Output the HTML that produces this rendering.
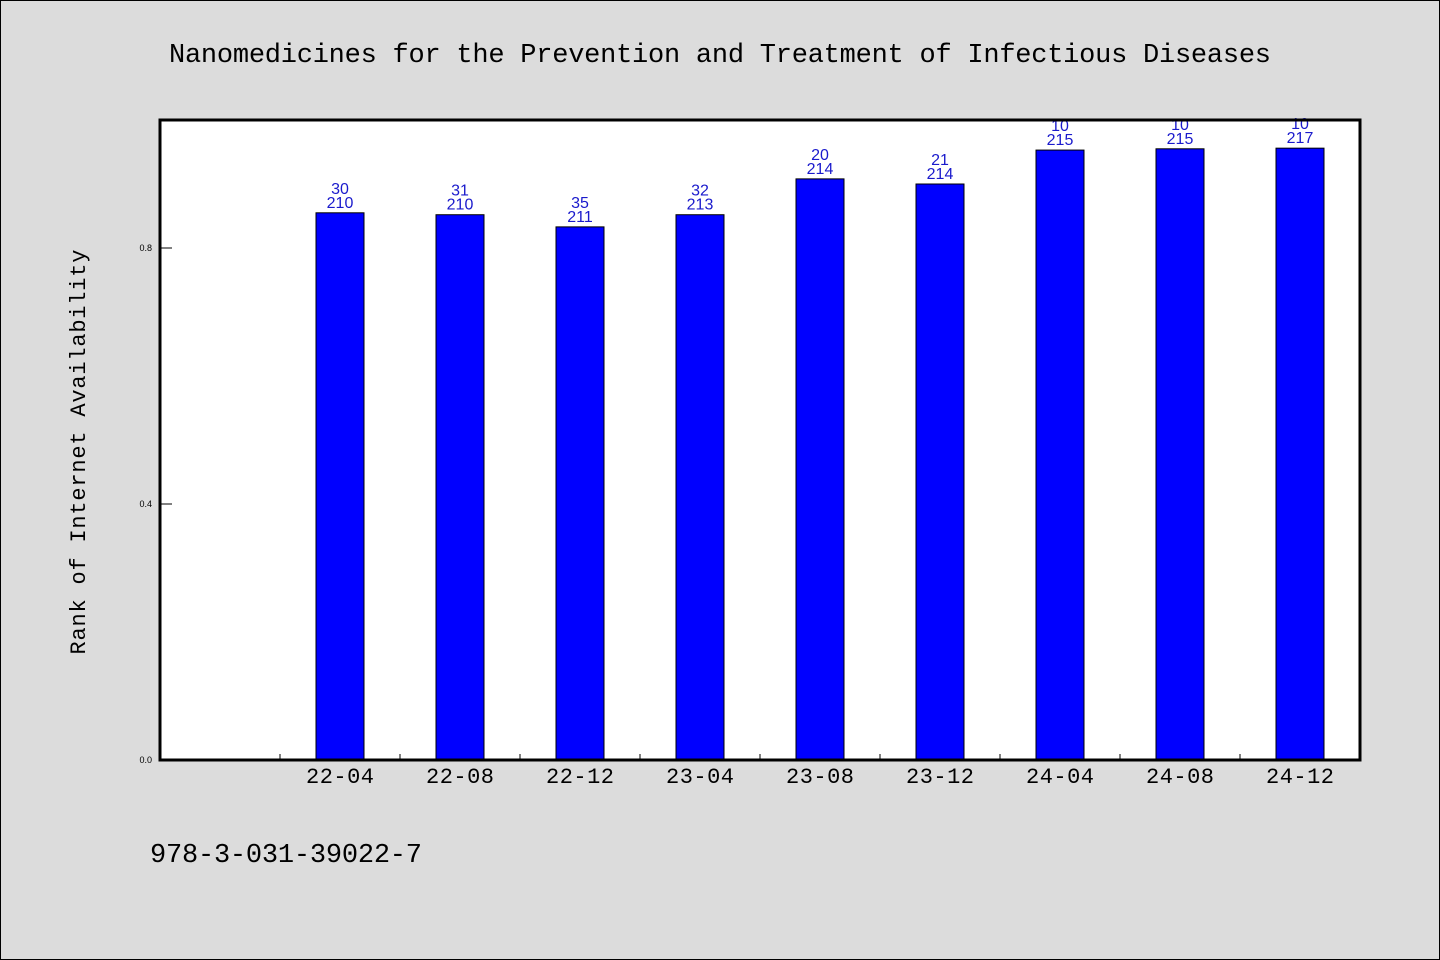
<!DOCTYPE html>
<html><head><meta charset="utf-8"><style>
html,body{margin:0;padding:0;background:#dcdcdc;}
svg{display:block;}
</style></head><body>
<svg id="chart" width="1440" height="960" xmlns="http://www.w3.org/2000/svg">
<rect x="0.5" y="0.5" width="1439" height="959" fill="#dcdcdc" stroke="#000"/>
<text x="720" y="62" text-anchor="middle" font-family="Liberation Mono, monospace" font-size="27" textLength="1102" fill="#000">Nanomedicines for the Prevention and Treatment of Infectious Diseases</text>
<rect x="160" y="120" width="1200" height="640" fill="#fff"/>
<g id="bars"></g>
<g id="axes"></g>
<text transform="translate(85,452) rotate(-90)" text-anchor="middle" font-family="Liberation Mono, monospace" font-size="22" textLength="405" fill="#000">Rank of Internet Availability</text>
<text x="150" y="862" font-family="Liberation Mono, monospace" font-size="27" textLength="272" fill="#000">978-3-031-39022-7</text>
</svg>
<script>
const categories = ["", "22-04","22-08","22-12","23-04","23-08","23-12","24-04","24-08","24-12"];
const values = [null, 0.855,0.852,0.833,0.852,0.908,0.900,0.953,0.955,0.956];
const topLabels = ["", "30","31","35","32","20","21","10","10","10"];
const bottomLabels = ["", "210","210","211","213","214","214","215","215","217"];
const yTicks = [0.0, 0.4, 0.8];
const yTickLabels = ["0.0","0.4","0.8"];

const NS="http://www.w3.org/2000/svg";
const L=160,R=1360,T=120,B=760,yMax=1.0;
const slot=(R-L)/categories.length;
const x=i=>L+slot*(i+0.5);
const y=v=>B-(v/yMax)*(B-T);
function mk(tag,attrs,parent){const e=document.createElementNS(NS,tag);for(const k in attrs)e.setAttribute(k,attrs[k]);parent.appendChild(e);return e;}
const bars=document.getElementById('bars'), axes=document.getElementById('axes');
const bw=48;
values.forEach((v,i)=>{
  if(v==null) return;
  const r=mk('rect',{x:x(i)-bw/2,y:y(v),width:bw,height:B-y(v),fill:'#0000ff',stroke:'#000','stroke-width':1},bars);
  
  
  const t1=mk('text',{x:x(i),y:y(v)-19,'text-anchor':'middle','font-family':'Liberation Sans, sans-serif','font-size':16,fill:'#1a1acc'},bars);
  t1.textContent=topLabels[i];
  
  
  const t2=mk('text',{x:x(i),y:y(v)-5,'text-anchor':'middle','font-family':'Liberation Sans, sans-serif','font-size':16,fill:'#1a1acc'},bars);
  t2.textContent=bottomLabels[i];
  
  
});
categories.forEach((c,i)=>{
  if(i>0){
    const tk=mk('line',{x1:L+slot*i,x2:L+slot*i,y1:B,y2:B-6,stroke:'#000','stroke-width':1},axes);
    
    
  }
  if(c){
    const t=mk('text',{x:x(i),y:B+23,'text-anchor':'middle','font-family':'Liberation Mono, monospace','font-size':22,textLength:68,fill:'#000'},axes);
    t.textContent=c;
    
    
  }
});
yTicks.forEach((v,i)=>{
  const tk=mk('line',{x1:L,x2:L+12,y1:y(v),y2:y(v),stroke:'#000','stroke-width':1},axes);
  
  
  const t=mk('text',{x:L-8,y:y(v)+3,'text-anchor':'end','font-family':'Liberation Sans, sans-serif','font-size':9,fill:'#000'},axes);
  t.textContent=yTickLabels[i];
  
  
});
const fr=mk('rect',{x:L,y:T,width:R-L,height:B-T,fill:'none',stroke:'#000','stroke-width':3},axes);


</script>
</body></html>
